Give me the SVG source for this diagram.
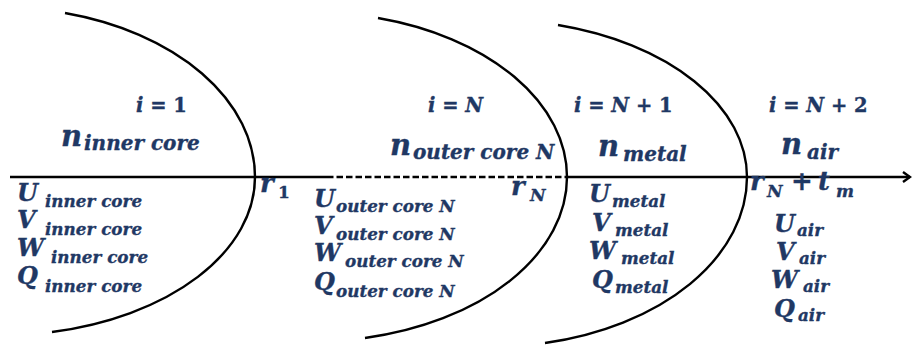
<svg xmlns="http://www.w3.org/2000/svg" width="912" height="345" viewBox="0 0 912 345">
<style>
.t{font-family:"DejaVu Serif",serif;font-weight:bold;font-style:italic;fill:#1F3864;stroke:#1F3864;stroke-width:0.35}
.up{font-style:normal}
.i{font-size:19.5px}
.nb{font-size:29px}
.nbs{font-size:20px}
.m{font-size:24px}
.ms{font-size:16.8px}
.r{font-size:26px}
.rs{font-size:17px}
.ln{fill:none;stroke:#000;stroke-width:2.4}
</style>
<rect width="912" height="345" fill="#fff"/>
<g id="boundaries">
<path class="ln" d="M65,13 A255,169.6 0 0 1 255,177 A255,158.3 0 0 1 52,332"/>
<path class="ln" d="M378,18 A255,164.6 0 0 1 567,177 A255,164.6 0 0 1 365,338"/>
<path class="ln" d="M558,25 A255,157.4 0 0 1 747,177 A255,169.7 0 0 1 545,343"/>
</g>
<g id="connectors">
<line class="ln" x1="10" y1="177" x2="327" y2="177" stroke-width="2.2"/>
<line class="ln" x1="327" y1="177" x2="567" y2="177" stroke-width="2.6" stroke-dasharray="6.5,3"/>
<line class="ln" x1="567" y1="177" x2="910" y2="177" stroke-width="2.2"/>
<polyline class="ln" points="903,172 910,177 903,182" stroke-width="2"/>
</g>
<g id="inner-core">
<text class="t i" x="136" y="112">i <tspan class="up">= 1</tspan></text>
<text class="t"><tspan class="nb" x="61" y="146">n</tspan><tspan class="nbs" x="84" y="150">inner core</tspan></text>
<text class="t"><tspan class="r" x="260" y="192">r</tspan><tspan class="rs up" x="278" y="198">1</tspan></text>
<text class="t"><tspan class="m" x="17" y="201">U</tspan><tspan class="ms" x="45" y="207">inner core</tspan></text>
<text class="t"><tspan class="m" x="17" y="228">V</tspan><tspan class="ms" x="45" y="235">inner core</tspan></text>
<text class="t"><tspan class="m" x="17" y="256">W</tspan><tspan class="ms" x="51" y="263">inner core</tspan></text>
<text class="t"><tspan class="m" x="17" y="284">Q</tspan><tspan class="ms" x="45" y="292">inner core</tspan></text>
</g>
<g id="outer-core-N">
<text class="t i" x="428" y="112">i <tspan class="up">=</tspan> N</text>
<text class="t"><tspan class="nb" x="390" y="155">n</tspan><tspan class="nbs" x="413" y="159">outer core N</tspan></text>
<text class="t"><tspan class="r" x="511" y="195">r</tspan><tspan class="rs" x="530" y="201">N</tspan></text>
<text class="t"><tspan class="m" x="314" y="207">U</tspan><tspan class="ms" x="336" y="212">outer core N</tspan></text>
<text class="t"><tspan class="m" x="314" y="234">V</tspan><tspan class="ms" x="336" y="240">outer core N</tspan></text>
<text class="t"><tspan class="m" x="314" y="261">W</tspan><tspan class="ms" x="345" y="267">outer core N</tspan></text>
<text class="t"><tspan class="m" x="314" y="290">Q</tspan><tspan class="ms" x="336" y="297">outer core N</tspan></text>
</g>
<g id="metal">
<text class="t i" x="574" y="112">i <tspan class="up">=</tspan> N <tspan class="up">+ 1</tspan></text>
<text class="t"><tspan class="nb" x="598" y="156">n</tspan><tspan class="nbs" x="623" y="161">metal</tspan></text>
<text class="t"><tspan class="m" x="589" y="202">U</tspan><tspan class="ms" x="612" y="207">metal</tspan></text>
<text class="t"><tspan class="m" x="592" y="231">V</tspan><tspan class="ms" x="615" y="236">metal</tspan></text>
<text class="t"><tspan class="m" x="589" y="259">W</tspan><tspan class="ms" x="621" y="264">metal</tspan></text>
<text class="t"><tspan class="m" x="592" y="288">Q</tspan><tspan class="ms" x="615" y="293">metal</tspan></text>
</g>
<g id="air">
<text class="t i" x="769" y="112">i <tspan class="up">=</tspan> N <tspan class="up">+ 2</tspan></text>
<text class="t"><tspan class="nb" x="781" y="154">n</tspan><tspan class="nbs" x="807" y="159">air</tspan></text>
<text class="t"><tspan class="r" x="750" y="190">r</tspan><tspan class="rs" x="767" y="197">N</tspan><tspan class="r up" x="791" y="190">+</tspan><tspan class="r" x="818" y="190">t</tspan><tspan class="rs" x="836" y="197">m</tspan></text>
<text class="t"><tspan class="m" x="774" y="232">U</tspan><tspan class="ms" x="797" y="236">air</tspan></text>
<text class="t"><tspan class="m" x="776" y="260">V</tspan><tspan class="ms" x="799" y="264">air</tspan></text>
<text class="t"><tspan class="m" x="771" y="288">W</tspan><tspan class="ms" x="803" y="292">air</tspan></text>
<text class="t"><tspan class="m" x="774" y="317">Q</tspan><tspan class="ms" x="798" y="321">air</tspan></text>
</g>
</svg>
